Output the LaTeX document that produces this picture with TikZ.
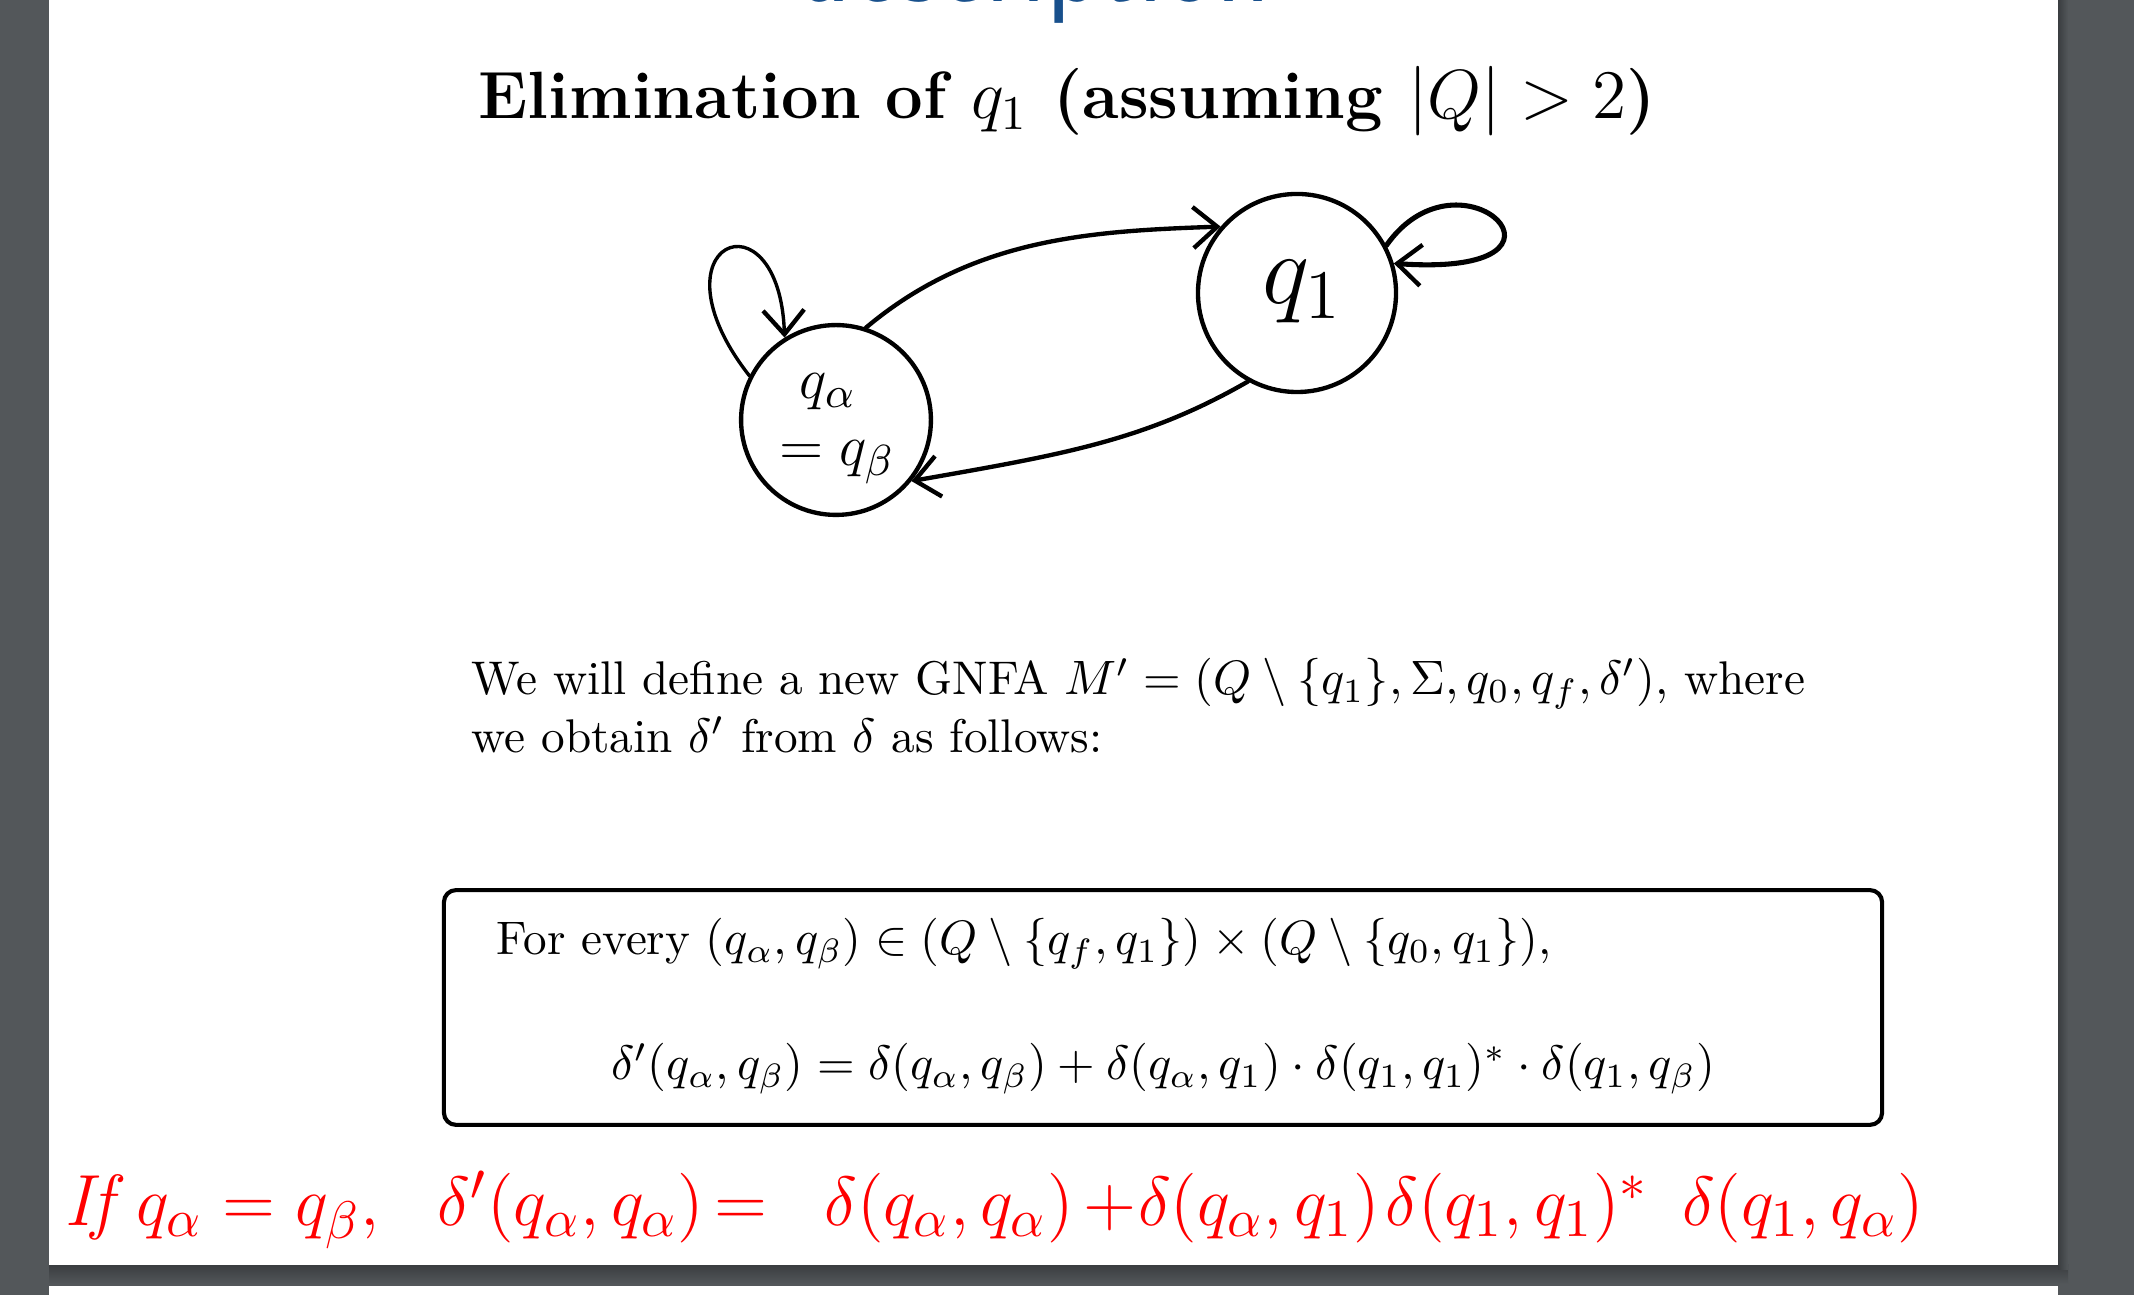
\documentclass[tikz,border=0pt]{standalone}
\usetikzlibrary{arrows.meta}
\definecolor{bggray}{RGB}{83,87,90}
\definecolor{shadowgray}{RGB}{58,61,64}
\definecolor{titleblue}{RGB}{24,80,140}
\definecolor{penred}{RGB}{255,0,0}
\tikzset{
  state/.style={circle, draw=black, line width=0.9pt, inner sep=0pt},
  pen/.style={line width=0.9pt, draw=black, line cap=round},
  arr/.style={pen, -{Straight Barb[length=5pt,width=8.5pt,line width=0.9pt]}},
  handlbl/.style={inner sep=0pt},
  bodytext/.style={inner sep=0pt, anchor=base west, font=\fontsize{9.78}{11.7}\selectfont},
  redtext/.style={inner sep=0pt, anchor=base, text=penred, font=\fontsize{15}{17}\selectfont},
  rulebox/.style={draw=black, line width=0.85pt, rounded corners=2.5pt, inner sep=0pt,
    minimum width=297.7pt, minimum height=48.6pt}
}
\begin{document}
\begin{tikzpicture}[x=0.207pt,y=0.207pt]
\useasboundingbox (0,0) rectangle (2134,-1295);
% viewer background
\fill[bggray] (0,0) rectangle (2134,-1295);
\shade[top color=shadowgray, bottom color=bggray] (49,-1265) rectangle (2068,-1284);
\shade[left color=shadowgray, right color=bggray] (2058,0) rectangle (2068,-1270);
\fill[white] (49,0) rectangle (2058,-1265);
\fill[white] (49,-1286) rectangle (2058,-1295);
\begin{scope}
\clip (49,0) rectangle (2058,-1265);
% frame title (cut off)
\node[inner sep=0pt, anchor=base, text=titleblue, font=\sffamily\fontsize{23.2}{25}\selectfont] (frametitle) at (1034,-2) {description};
% heading
\node[inner sep=0pt, anchor=base, font=\fontsize{13.83}{16}\selectfont\bfseries] (heading) at (1067,-119) {Elimination of $q_1$ (assuming $|Q|>2$)};
% states
\node[state, minimum size=39.3pt] (qa) at (836,-420) {};
\node[state, minimum size=41pt] (q1) at (1297,-293) {};
\node[handlbl, font=\fontsize{13}{15}\selectfont] (qalbl) at (828,-392) {$q_\alpha$};
\node[handlbl, font=\fontsize{13}{15}\selectfont] (qblbl) at (837,-462) {$= q_\beta$};
\node[handlbl, font=\fontsize{22}{24}\selectfont] (q1lbl) at (1302,-292) {$q_1$};
% connectors
\draw[arr] (qa.72) .. controls +(40:140) and +(182:130) .. (q1.139);
\draw[arr] (q1.241) .. controls +(210:120) and +(10:150) .. (qa.-39);
\draw[arr, line width=0.7pt] (qa.153) .. controls +(128:170) and +(92:150) .. (qa.122);
\draw[arr, line width=1.05pt] (q1.28) .. controls +(55:130) and +(-4:210) .. (q1.17);
% body text
\node[bodytext] (line1) at (471,-695) {We will define a new GNFA $M' = (Q \setminus \{q_1\}, \Sigma, q_0, q_f, \delta')$, where};
\node[bodytext] (line2) at (471,-753) {we obtain $\delta'$ from $\delta$ as follows:};
% box
\node[rulebox] (box) at (1163,-1007.5) {};
\node[bodytext, font=\fontsize{9.75}{11.7}\selectfont] (forevery) at (496,-955) {For every $(q_\alpha, q_\beta) \in (Q \setminus \{q_f, q_1\}) \times (Q \setminus \{q_0, q_1\})$,};
\node[inner sep=0pt, anchor=base, font=\fontsize{9.6}{11.5}\selectfont] (formula) at (1163,-1080) {$\delta'(q_\alpha, q_\beta) = \delta(q_\alpha, q_\beta) + \delta(q_\alpha, q_1)\cdot \delta(q_1, q_1)^* \cdot \delta(q_1, q_\beta)$};
% red handwriting
\node[redtext] (r1) at (94,-1226) {\textit{If}};
\node[redtext] (r2) at (258,-1226) {$q_\alpha = q_\beta,$};
\node[redtext] (r3) at (571,-1226) {$\delta'(q_\alpha, q_\alpha)$};
\node[redtext] (r3b) at (741,-1226) {$=$};
\node[redtext] (r4) at (949,-1226) {$\delta(q_\alpha, q_\alpha)$};
\node[redtext] (r5) at (1110,-1226) {$+$};
\node[redtext] (r6) at (1259,-1226) {$\delta(q_\alpha, q_1)$};
\node[redtext] (r7) at (1517,-1226) {$\delta(q_1, q_1)^*$};
\node[redtext] (r8) at (1803,-1226) {$\delta(q_1, q_\alpha)$};
\end{scope}
\end{tikzpicture}
\end{document}
